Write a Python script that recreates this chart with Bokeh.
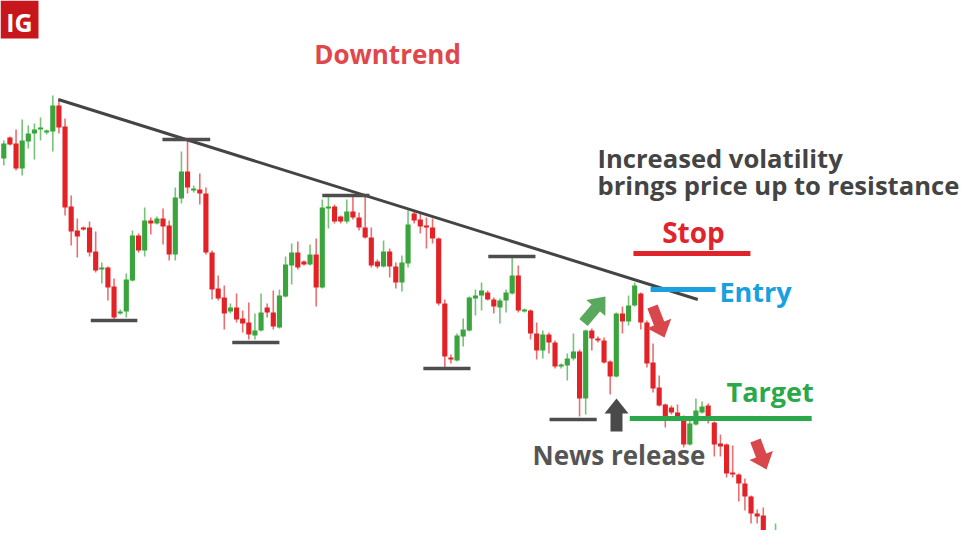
import math
from bokeh.plotting import figure
from bokeh.models import Range1d, Label, ColumnDataSource
from bokeh.embed import file_html
from bokeh.resources import INLINE

# ---------------- data (price units) ----------------
opens = [388, 409, 403, 378, 405, 413, 417, 414, 415, 441,
         420, 340, 316, 319, 319, 295, 277, 279, 260, 233,
         235, 266, 311, 296, 326, 323, 328, 321, 292, 348,
         375, 356, 357, 353, 294, 258, 249, 235, 239, 228,
         224, 211, 216, 239, 234, 219, 250, 281, 294, 285,
         282, 292, 259, 338, 340, 330, 325, 335, 329, 319,
         309, 285, 280, 295, 280, 264, 283, 333, 327, 321,
         319, 308, 243, 189, 186, 210, 216, 248, 251, 254,
         247, 239, 246, 253, 271, 235, 236, 213, 196, 212,
         204, 180, 181, 188, 195, 148, 216, 208, 206, 185,
         170, 233, 225, 241, 253, 224, 184, 159, 142, 139,
         134, 126, 102, 122, 134, 141, 124, 103, 102, 74,
         72, 63, 50, 33, 31, -2, -2, 3]
highs = [406, 410, 417, 427, 421, 423, 429, 417, 451, 447,
         428, 351, 328, 320, 325, 315, 284, 280, 268, 237,
         273, 316, 313, 339, 329, 330, 338, 326, 359, 395,
         407, 361, 373, 359, 296, 271, 261, 243, 253, 236,
         244, 233, 253, 243, 256, 257, 290, 303, 305, 286,
         302, 308, 347, 350, 342, 331, 347, 350, 334, 350,
         319, 287, 306, 298, 284, 291, 336, 335, 334, 329,
         328, 309, 247, 192, 213, 228, 250, 257, 264, 256,
         249, 248, 257, 290, 281, 238, 237, 224, 216, 214,
         206, 183, 193, 213, 197, 217, 218, 210, 209, 186,
         234, 240, 251, 264, 254, 226, 203, 171, 143, 141,
         142, 131, 126, 148, 145, 143, 125, 112, 103, 101,
         73, 68, 51, 37, 39, 1, 23, 8]
lows = [381, 401, 376, 371, 398, 387, 406, 412, 395, 413,
        331, 301, 289, 316, 290, 274, 263, 246, 226, 232,
        229, 265, 294, 290, 312, 322, 302, 286, 286, 343,
        353, 354, 342, 292, 247, 246, 217, 233, 224, 214,
        207, 207, 215, 229, 217, 218, 249, 262, 277, 281,
        281, 240, 258, 318, 323, 323, 323, 327, 316, 308,
        279, 278, 279, 269, 258, 255, 279, 323, 313, 298,
        303, 241, 179, 183, 185, 200, 215, 231, 236, 246,
        233, 223, 234, 252, 234, 234, 207, 187, 188, 193,
        178, 178, 166, 186, 130, 132, 196, 204, 183, 152,
        169, 213, 221, 240, 217, 179, 154, 140, 119, 132,
        129, 99, 101, 121, 133, 123, 90, 90, 69, 69,
        45, 36, 23, 23, -14, -24, -6, -6]
closes = [403, 402, 378, 406, 413, 417, 419, 416, 441, 419,
          339, 315, 310, 317, 294, 276, 279, 259, 229, 235,
          267, 311, 296, 326, 323, 328, 320, 292, 349, 375,
          359, 358, 353, 294, 257, 248, 233, 239, 227, 223,
          212, 216, 234, 234, 220, 251, 282, 294, 279, 282,
          292, 259, 339, 340, 325, 325, 335, 329, 319, 309,
          281, 280, 295, 280, 264, 284, 322, 326, 320, 319,
          308, 243, 190, 187, 211, 217, 249, 251, 256, 247,
          240, 246, 254, 271, 236, 237, 213, 196, 212, 204,
          180, 182, 188, 195, 148, 216, 208, 206, 184, 170,
          233, 225, 241, 261, 224, 183, 158, 141, 130, 134,
          130, 102, 123, 136, 140, 130, 102, 100, 73, 72,
          63, 50, 33, 30, -4, -16, 2, -4]

# horizontal swing levels (price) and their span (candle index)
swing_levels = [407, 226, 204, 351, 178, 290, 127]
swing_x0 = [25.9, 14.2, 37.3, 52.0, 68.5, 79.1, 89.1]
swing_x1 = [33.7, 21.8, 45.0, 59.7, 76.2, 86.8, 96.8]

# trend line (index, price)
trend_x = [8.9, 113.3]
trend_y = [447, 247]

# trade levels
stop_level, stop_x = 293, [102.8, 121.9]
entry_level, entry_x = 257, [105.6, 116.2]
target_level, target_x = 128, [102.2, 131.9]

# ---------------- helpers ----------------
SP, OFF = 6.125, 3.3


def X(px):
    return (px - OFF) / SP


def Y(py):
    return 546 - py


n = len(opens)
idx = list(range(n))
up = [c > o for o, c in zip(opens, closes)]
RED, GREEN = "#e22226", "#3aa53d"
RED_W, GREEN_W = "#ea7070", "#78c27a"
src = ColumnDataSource(dict(
    x=idx,
    top=[max(o, c) for o, c in zip(opens, closes)],
    bottom=[min(o, c) for o, c in zip(opens, closes)],
    high=highs, low=lows,
    body=[GREEN if u else RED for u in up],
    wick=[GREEN_W if u else RED_W for u in up],
))

p = figure(width=962, height=530, output_backend="svg", toolbar_location=None,
           x_range=Range1d(X(0), X(962)), y_range=Range1d(Y(530), Y(0)),
           x_axis_location=None, y_axis_location=None, min_border=0)
p.grid.visible = False
p.outline_line_color = None
p.background_fill_color = "white"
p.border_fill_color = "white"

p.segment(x0="x", x1="x", y0="low", y1="high", line_color="wick", line_width=1.6, source=src)
p.vbar(x="x", width=0.84, top="top", bottom="bottom", fill_color="body", line_color=None, source=src)

# trend line and swing levels
p.line(trend_x, trend_y, line_color="#444444", line_width=3)
p.segment(x0=swing_x0, x1=swing_x1, y0=swing_levels, y1=swing_levels, line_color="#4d4d4d", line_width=3.5)

# trade levels
p.line(stop_x, [stop_level] * 2, line_color="#e0242b", line_width=5)
p.line(entry_x, [entry_level] * 2, line_color="#1a9fdf", line_width=5)
p.line(target_x, [target_level] * 2, line_color="#2aa84a", line_width=5)


def arrow_poly(t, h, sw, hw, hl):
    (tx, ty), (hx, hy) = t, h
    dx, dy = hx - tx, hy - ty
    L = math.hypot(dx, dy)
    ux, uy = dx / L, dy / L
    nx, ny = -uy, ux
    bx, by = hx - ux * hl, hy - uy * hl
    pts = [(tx + nx * sw / 2, ty + ny * sw / 2), (bx + nx * sw / 2, by + ny * sw / 2),
           (bx + nx * hw / 2, by + ny * hw / 2), (hx, hy),
           (bx - nx * hw / 2, by - ny * hw / 2), (bx - nx * sw / 2, by - ny * sw / 2),
           (tx - nx * sw / 2, ty - ny * sw / 2)]
    return [X(a) for a, b in pts], [Y(b) for a, b in pts]


arrows = [((583, 322), (605, 296), 11, 25, 15, "#5aa85e"),
          ((652, 306), (664, 337), 11, 26, 15, "#d8474b"),
          ((755, 440), (766, 469), 11, 25, 15, "#d8474b"),
          ((616, 431), (616, 398), 12, 24, 15, "#4a4a4a")]
xs, ys, cols = [], [], []
for t, h, sw, hw, hl, c in arrows:
    ax, ay = arrow_poly(t, h, sw, hw, hl)
    xs.append(ax)
    ys.append(ay)
    cols.append(c)
p.patches(xs, ys, fill_color=cols, line_color=None)

# logo
p.quad(left=[X(0)], right=[X(38)], bottom=[Y(38)], top=[Y(0)], fill_color="#c8161d", line_color=None)

FONT = "Open Sans"


def lab(text, px, py, size, color, align="left"):
    p.add_layout(Label(x=X(px), y=Y(py), text=text, text_font=FONT, text_font_style="bold",
                       text_font_size=size, text_color=color, text_align=align,
                       text_baseline="middle"))


lab("IG", 19, 21, "25px", "white", "center")
lab("Downtrend", 387, 53, "26px", "#e0474c", "center")
lab("Increased volatility", 597, 158, "25.6px", "#444444")
lab("brings price up to resistance", 597, 185, "25.6px", "#444444")
lab("Stop", 693, 231, "28px", "#e0242b", "center")
lab("Entry", 719, 291, "27px", "#1a9fdf")
lab("Target", 726, 391, "27px", "#2aa84a")
lab("News release", 532, 454, "26px", "#555555")

open("out.html", "w").write(file_html(p, INLINE))
